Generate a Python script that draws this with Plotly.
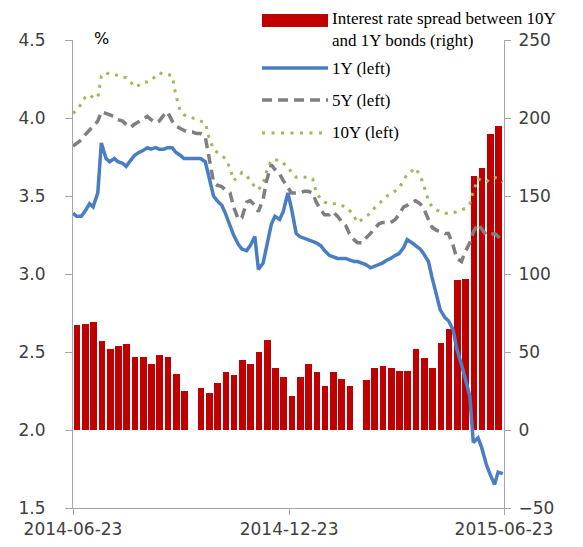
import pandas as pd
import plotly.graph_objects as go

# ---------------- data ----------------
# weekly spread bars (bp, right axis); None = holiday week without trading
week_starts = pd.date_range("2014-06-23", periods=52, freq="7D")
spread_bp = [67, 68, 69, 57, 52, 54, 55, 47, 47, 42, 48, 47, 36, 25, None,
             27, 24, 30, 37, 35, 45, 42, 50, 58, 40, 34, 22, 34, 42, 37,
             28, 37, 33, 28, None, 32, 40, 41, 40, 38, 38, 52, 46, 40, 56,
             65, 96, 97, 163, 168, 190, 195]

# yields (%, left axis) sampled on Mondays and Thursdays
mondays = pd.date_range("2014-06-23", "2015-06-22", freq="W-MON")
thursdays = mondays[:-1] + pd.Timedelta(days=3)
line_dates = mondays.append(thursdays).sort_values()

y1 = [3.39, 3.37, 3.37, 3.40, 3.45, 3.43, 3.52, 3.84, 3.74, 3.72, 3.74, 3.72,
      3.71, 3.69, 3.73, 3.76, 3.78, 3.79, 3.81, 3.80, 3.81, 3.80, 3.80, 3.81,
      3.81, 3.78, 3.76, 3.74, 3.74, 3.74, 3.74, 3.74, 3.72, 3.62, 3.50, 3.47,
      3.44, 3.39, 3.30, 3.25, 3.19, 3.16, 3.15, 3.18, 3.24, 3.03, 3.07, 3.17,
      3.32, 3.37, 3.35, 3.40, 3.52, 3.42, 3.26, 3.24, 3.23, 3.22, 3.21, 3.20,
      3.18, 3.15, 3.12, 3.11, 3.10, 3.10, 3.10, 3.09, 3.08, 3.08, 3.07, 3.06,
      3.04, 3.05, 3.06, 3.07, 3.09, 3.10, 3.12, 3.13, 3.17, 3.22, 3.20, 3.18,
      3.16, 3.13, 3.08, 2.98, 2.85, 2.77, 2.72, 2.70, 2.64, 2.52, 2.42, 2.34,
      2.22, 1.92, 1.95, 1.89, 1.78, 1.72, 1.65, 1.73, 1.72]

y5 = [3.82, 3.84, 3.86, 3.89, 3.92, 3.95, 3.98, 4.04, 4.03, 4.02, 4.01, 3.99,
      3.98, 3.96, 3.94, 3.96, 3.98, 3.99, 4.01, 3.99, 3.97, 3.98, 4.02, 4.04,
      3.98, 3.95, 3.93, 3.92, 3.91, 3.91, 3.90, 3.90, 3.88, 3.75, 3.59, 3.57,
      3.56, 3.54, 3.52, 3.43, 3.35, 3.36, 3.46, 3.47, 3.44, 3.40, 3.48, 3.60,
      3.70, 3.67, 3.64, 3.60, 3.55, 3.52, 3.52, 3.52, 3.53, 3.53, 3.52, 3.46,
      3.41, 3.38, 3.38, 3.40, 3.37, 3.34, 3.31, 3.26, 3.22, 3.20, 3.20, 3.23,
      3.26, 3.29, 3.32, 3.33, 3.33, 3.33, 3.35, 3.38, 3.43, 3.44, 3.46, 3.47,
      3.45, 3.42, 3.35, 3.30, 3.28, 3.27, 3.26, 3.26, 3.18, 3.10, 3.08, 3.14,
      3.20, 3.27, 3.32, 3.29, 3.25, 3.25, 3.26, 3.24, 3.20]

y10 = [4.03, 4.05, 4.09, 4.13, 4.15, 4.13, 4.13, 4.27, 4.29, 4.28, 4.28, 4.27,
       4.26, 4.26, 4.23, 4.20, 4.21, 4.23, 4.23, 4.24, 4.27, 4.29, 4.28, 4.28,
       4.27, 4.15, 4.04, 4.02, 4.01, 4.00, 3.99, 3.98, 3.97, 3.88, 3.80, 3.78,
       3.76, 3.74, 3.68, 3.60, 3.62, 3.65, 3.63, 3.60, 3.56, 3.54, 3.58, 3.66,
       3.73, 3.73, 3.73, 3.71, 3.69, 3.65, 3.62, 3.62, 3.62, 3.62, 3.61, 3.52,
       3.48, 3.46, 3.45, 3.45, 3.45, 3.44, 3.43, 3.41, 3.37, 3.33, 3.35, 3.37,
       3.39, 3.42, 3.45, 3.47, 3.50, 3.51, 3.53, 3.55, 3.60, 3.64, 3.66, 3.68,
       3.63, 3.57, 3.47, 3.43, 3.41, 3.40, 3.39, 3.39, 3.39, 3.40, 3.41, 3.42,
       3.45, 3.53, 3.61, 3.60, 3.59, 3.61, 3.62, 3.61, 3.59]

x_tick_vals = ["2014-06-23", "2014-12-23", "2015-06-23"]
x_tick_text = ["2014-06-23", "2014-12-23", "2015-06-23"]

legend_labels = ["Interest rate spread between 10Y<br>and 1Y bonds (right)",
                 "1Y (left)", "5Y (left)", "10Y (left)"]

assert len(y1) == len(y5) == len(y10) == len(line_dates)
assert len(spread_bp) == len(week_starts)

# ---------------- styles ----------------
RED = "#C00000"
BLUE = "#4A7EC2"
GRAY = "#7F7F7F"
GREEN = "#9BBB59"
AXIS = "#A6A6A6"
TICKFONT = dict(family="DejaVu Sans", size=17, color="#404040")
LEGFONT = dict(family="Liberation Serif", size=17, color="#000000")

# page has an 8px body margin: figure coords = page coords - 8
OFF = 8
FIG_W, FIG_H = 583 - OFF, 547 - OFF
L, R, T, B = 73, 504, 40, 508          # plot area in page pixels

bar_centres = week_starts + pd.Timedelta(hours=84)

fig = go.Figure()
fig.add_trace(go.Bar(x=bar_centres, y=spread_bp, yaxis="y",
                     width=5.6 * 86400000, marker=dict(color=RED, line=dict(width=0)),
                     name="Interest rate spread between 10Y and 1Y bonds (right)",
                     showlegend=False))
fig.add_trace(go.Scatter(x=line_dates, y=y10, yaxis="y2", mode="lines",
                         line=dict(color=GREEN, width=3, dash="3px,6px"),
                         name="10Y (left)", showlegend=False))
fig.add_trace(go.Scatter(x=line_dates, y=y5, yaxis="y2", mode="lines",
                         line=dict(color=GRAY, width=3.5, dash="10px,6px"),
                         name="5Y (left)", showlegend=False))
fig.add_trace(go.Scatter(x=line_dates, y=y1, yaxis="y2", mode="lines",
                         line=dict(color=BLUE, width=3.5),
                         name="1Y (left)", showlegend=False))

# ---------------- manual legend (paper coords) ----------------
def px(xp):
    return (xp - L) / (R - L)
def py(yp):
    return (B - yp) / (B - T)

sx0, sx1 = px(262), px(328)
shapes = [
    dict(type="rect", xref="paper", yref="paper", x0=sx0, x1=sx1,
         y0=py(27), y1=py(14), fillcolor=RED, line=dict(width=0)),
    dict(type="line", xref="paper", yref="paper", x0=sx0, x1=sx1,
         y0=py(68), y1=py(68), line=dict(color=BLUE, width=3.5)),
    dict(type="line", xref="paper", yref="paper", x0=sx0, x1=sx1,
         y0=py(100), y1=py(100), line=dict(color=GRAY, width=3.5, dash="10px,6px")),
    dict(type="line", xref="paper", yref="paper", x0=sx0, x1=sx1,
         y0=py(133), y1=py(133), line=dict(color=GREEN, width=3, dash="3px,6.5px")),
]
annotations = [
    dict(text=legend_labels[0], xref="paper", yref="paper", x=px(330), y=py(7),
         xanchor="left", yanchor="top", align="left", showarrow=False, font=LEGFONT),
    dict(text=legend_labels[1], xref="paper", yref="paper", x=px(330), y=py(68),
         xanchor="left", yanchor="middle", showarrow=False, font=LEGFONT),
    dict(text=legend_labels[2], xref="paper", yref="paper", x=px(330), y=py(100),
         xanchor="left", yanchor="middle", showarrow=False, font=LEGFONT),
    dict(text=legend_labels[3], xref="paper", yref="paper", x=px(330), y=py(133),
         xanchor="left", yanchor="middle", showarrow=False, font=LEGFONT),
    dict(text="%", xref="paper", yref="paper", x=px(101), y=py(38),
         xanchor="center", yanchor="middle", showarrow=False,
         font=dict(family="DejaVu Sans", size=16, color="#000000")),
]

fig.update_layout(
    width=FIG_W, height=FIG_H,
    margin=dict(l=L - OFF, r=FIG_W - (R - OFF), t=T - OFF, b=FIG_H - (B - OFF),
                autoexpand=False),
    paper_bgcolor="white", plot_bgcolor="white",
    showlegend=False, bargap=0,
    shapes=shapes, annotations=annotations,
    xaxis=dict(type="date", range=["2014-06-23", "2015-06-23"],
               tickvals=x_tick_vals, ticktext=x_tick_text,
               showline=True, linecolor=AXIS, linewidth=1,
               ticks="outside", ticklen=6, tickcolor=AXIS,
               showgrid=False, zeroline=False, tickfont=TICKFONT),
    yaxis=dict(side="right", range=[-50, 250], dtick=50, tick0=0,
               showline=True, linecolor=AXIS, linewidth=1,
               ticks="outside", ticklen=6, tickcolor=AXIS,
               showgrid=False, zeroline=False, tickfont=TICKFONT,
               ticklabelstandoff=4),
    yaxis2=dict(overlaying="y", side="left", anchor="x",
                range=[1.5, 4.5], dtick=0.5, tick0=1.5, tickformat=".1f",
                showline=True, linecolor=AXIS, linewidth=1,
                ticks="outside", ticklen=7, tickcolor=AXIS,
                showgrid=False, zeroline=False, tickfont=TICKFONT,
                ticklabelstandoff=16),
)

fig.write_html("out.html")
